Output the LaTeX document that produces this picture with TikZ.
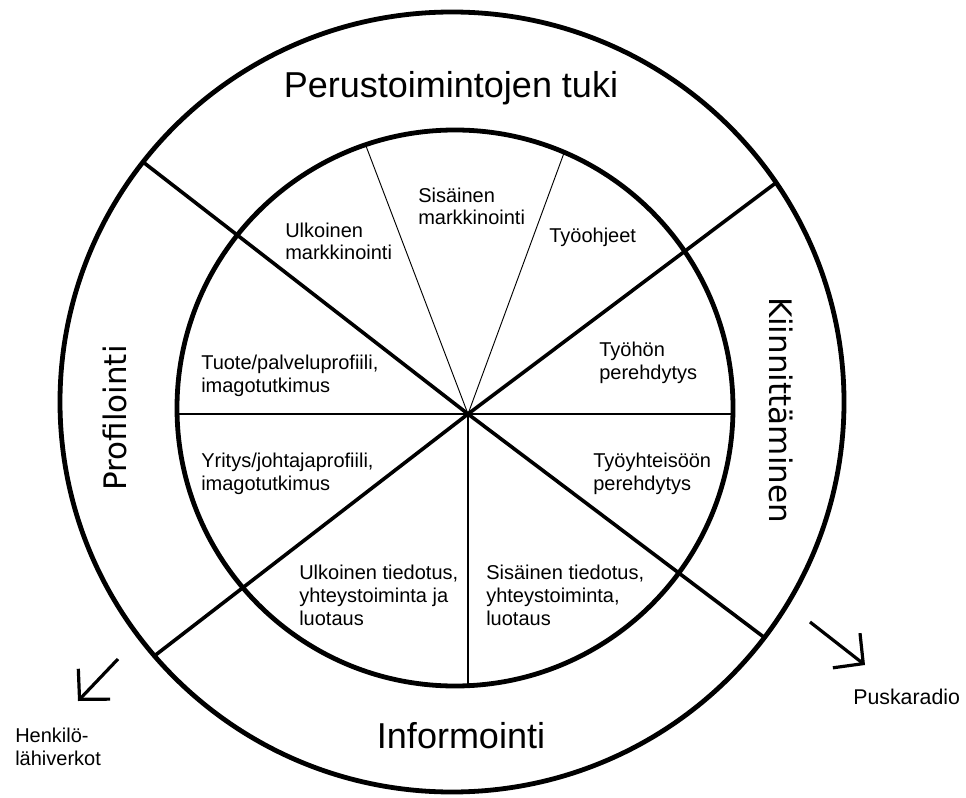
\documentclass[tikz,border=0pt]{standalone}
\usepackage{fontspec}
\setmainfont{Liberation Sans}
\newfontfamily\sidefont{DejaVu Sans}
\usetikzlibrary{arrows.meta}

\begin{document}
\begin{tikzpicture}[x=0.75pt,y=-0.75pt,
    ring/.style={line width=3.6pt},
    spoke/.style={line width=2.7pt},
    split/.style={line width=0.9pt},
    cell/.style={anchor=base west,align=left,inner sep=0pt,
      font=\fontsize{15}{17}\selectfont},
    sector/.style={inner sep=0pt,font=\fontsize{27}{30}\selectfont},
    side/.style={inner sep=0pt,font=\sidefont\fontsize{23.25}{26}\selectfont},
    pointer/.style={line width=2.4pt,-{Straight Barb[length=16pt,width=33pt]}}]
  \useasboundingbox (0,0) rectangle (966,798);

  \coordinate (c) at (468,414);
  \coordinate (ul) at (143,162);
  \coordinate (ur) at (777,182);
  \coordinate (ll) at (153,657);
  \coordinate (lr) at (765,638);
  \coordinate (w) at (177,414);
  \coordinate (e) at (733,414);
  \coordinate (s) at (468,686);
  \coordinate (nw) at (366,146);
  \coordinate (ne) at (564,153);

  \draw[ring] (452,402) ellipse [x radius=392, y radius=390];
  \draw[ring] (455,408) circle [radius=278];

  \draw[spoke] (c) -- (ul);
  \draw[spoke] (c) -- (ur);
  \draw[spoke] (c) -- (ll);
  \draw[spoke] (c) -- (lr);
  \draw[split] (w) -- (e);
  \draw[split] (c) -- (s);
  \draw[split,line width=0.7pt] (c) -- (nw);
  \draw[split,line width=0.7pt] (c) -- (ne);

  \node[sector,anchor=base] (tuki) at (451,98) {Perustoimintojen tuki};
  \node[sector,anchor=base] (info) at (461,748) {Informointi};
  \node[side,rotate=90] (prof) at (115,418) {Profilointi};
  \node[side,rotate=-90] (kiin) at (781,410) {Kiinnittäminen};

  % the base anchor sits on the last line
  \node[cell] (ulkm) at (285,260) {Ulkoinen\\markkinointi};
  \node[cell] (sism) at (418,225) {Sisäinen\\markkinointi};
  \node[cell] (ohje) at (549,243) {Työohjeet};
  \node[cell] (tyoh) at (599,379) {Työhön\\perehdytys};
  \node[cell] (tuote) at (201,392) {Tuote/palveluprofiili,\\imagotutkimus};
  \node[cell] (yrit) at (201,490) {Yritys/johtajaprofiili,\\imagotutkimus};
  \node[cell] (yhte) at (593,490) {Työyhteisöön\\perehdytys};
  \node[cell] (ulkt) at (299,625) {Ulkoinen tiedotus,\\yhteystoiminta ja\\luotaus};
  \node[cell] (sist) at (486,625) {Sisäinen tiedotus,\\yhteystoiminta,\\luotaus};

  \coordinate (h0) at (118,659);
  \coordinate (h1) at (78,701);
  \coordinate (p0) at (810,622);
  \coordinate (p1) at (865,665);
  \draw[pointer] (h0) -- (h1);
  \draw[pointer] (p0) -- (p1);
  \node[cell] (henk) at (15,765) {Henkilö-\\lähiverkot};
  \node[cell,font=\fontsize{16}{18}\selectfont] (pusk) at (853,704) {Puskaradio};
\end{tikzpicture}
\end{document}
